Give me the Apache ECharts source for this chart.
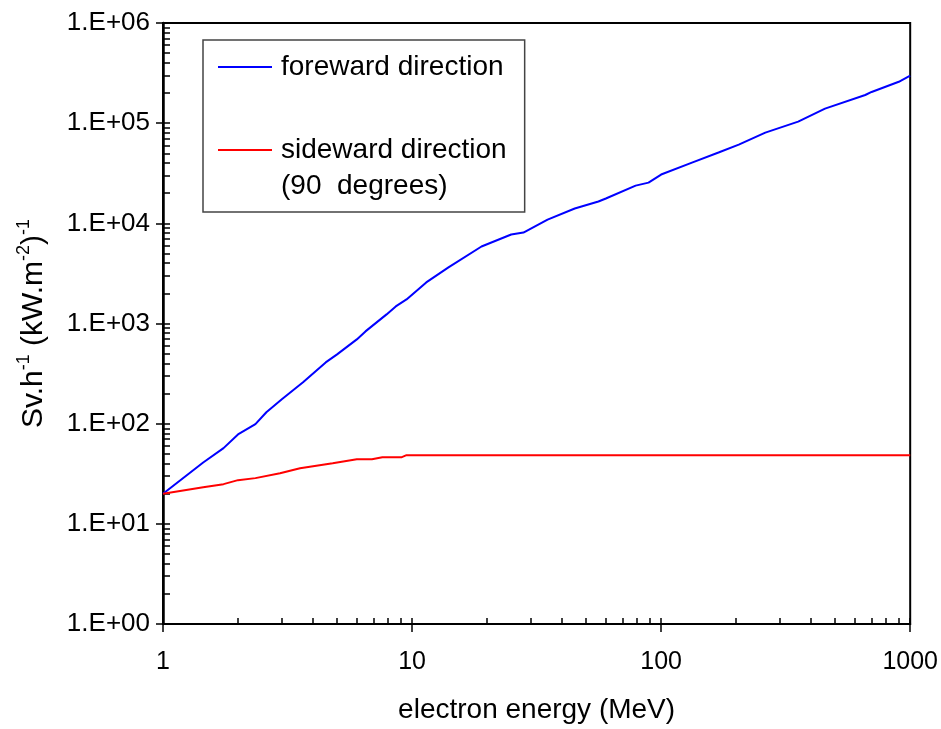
<!DOCTYPE html>
<html>
<head>
<meta charset="utf-8">
<script src="https://cdn.jsdelivr.net/npm/echarts@6/dist/echarts.min.js"></script>
<style>html,body{margin:0;padding:0;background:#fff}#c{width:941px;height:729px}</style>
</head>
<body>
<div id="c"></div>
<script>
// ---- data ----
const fwdEnergy = [1, 1.45, 1.75, 2, 2.35, 2.6, 3, 3.65, 4.5, 5, 6, 6.5, 7.9, 8.6, 9.5, 11.4, 14, 19, 25, 28, 35, 45, 56, 60, 79, 89, 100, 133, 170, 205, 262, 355, 455, 660, 700, 900, 1000];
const fwdDose   = [20, 41, 57, 78, 99, 130, 175, 259, 409, 492, 694, 834, 1233, 1481, 1739, 2570, 3630, 5870, 7730, 8090, 10900, 14060, 16500, 17700, 23800, 25500, 30700, 40400, 50900, 61100, 80400, 103500, 139600, 191000, 205000, 259000, 298000];
const sideEnergy = [1, 1.45, 1.75, 2, 2.35, 2.95, 3.55, 4.8, 6, 6.9, 7.6, 9.1, 9.5, 1000];
const sideDose   = [20, 23.2, 24.9, 27.3, 28.6, 32, 35.9, 40.3, 44.2, 44.2, 46.3, 46.3, 48.5, 48.5];
const xTickLabels = ['1', '10', '100', '1000'];
const yTickLabels = ['1.E+00', '1.E+01', '1.E+02', '1.E+03', '1.E+04', '1.E+05', '1.E+06'];
// inside ticks (minor ticks plus inner half of the major ticks)
const xInsideTicks = [1,2,3,4,5,6,7,8,9,10,20,30,40,50,60,70,80,90,100,200,300,400,500,600,700,800,900,1000];
const yInsideTicks = [1,2,3,4,5,6,7,8,9,10,20,30,40,50,60,70,80,90,100,200,300,400,500,600,700,800,900,
  1000,2000,3000,4000,5000,6000,7000,8000,9000,10000,20000,30000,40000,50000,60000,70000,80000,90000,
  100000,200000,300000,400000,500000,600000,700000,800000,900000,1000000];
const seriesNames = ['foreward direction', 'sideward direction\n(90  degrees)'];

const FONT = "'Liberation Sans', Arial, sans-serif";
const pairs = (xs, ys) => xs.map((x, i) => [x, ys[i]]);
const xLabel = v => xTickLabels[Math.round(Math.log10(v))];
const yLabel = v => yTickLabels[Math.round(Math.log10(v))];
const tickStyle = {color: '#000', width: 1.5};

const chart = echarts.init(document.getElementById('c'), null, {renderer: 'canvas'});
chart.setOption({
  animation: false,
  backgroundColor: '#fff',
  grid: {left: 163, right: 29, top: 23, bottom: 104, show: true, borderColor: '#000', borderWidth: 2, backgroundColor: 'transparent'},
  legend: {
    orient: 'vertical', left: 203, top: 40,
    padding: [9, 18, 8, 15], itemGap: 11, itemWidth: 54, itemHeight: 2, icon: 'rect',
    borderColor: '#444', borderWidth: 1.5, backgroundColor: '#fff',
    textStyle: {fontSize: 28, fontFamily: FONT, color: '#000', lineHeight: 36, padding: [0, 0, 0, 4]},
    formatter: name => name === seriesNames[1] ? '\n' + name : name,
    data: [{name: seriesNames[0]}, {name: seriesNames[1]}]
  },
  xAxis: [{
    type: 'log', logBase: 10, min: 1, max: 1000, position: 'bottom',
    name: 'electron energy (MeV)', nameLocation: 'middle', nameGap: 72,
    nameTextStyle: {fontSize: 28, fontFamily: FONT, color: '#000'},
    axisLine: {show: true, lineStyle: {color: '#000', width: 2}},
    axisTick: {show: true, inside: false, length: 8, lineStyle: tickStyle},
    axisLabel: {fontSize: 25, fontFamily: FONT, color: '#000', margin: 26, formatter: xLabel},
    splitLine: {show: false}, minorTick: {show: false}
  }, {
    type: 'value', min: 0, max: 3, position: 'bottom',
    axisLine: {show: false},
    axisTick: {show: true, inside: true, length: 6, customValues: xInsideTicks.map(Math.log10), lineStyle: tickStyle},
    axisLabel: {show: false}, splitLine: {show: false}
  }],
  yAxis: [{
    type: 'log', logBase: 10, min: 1, max: 1000000, position: 'left',
    name: '{n|Sv.h}{s|-1}{n| (kW.m}{s|-2}{n|)}{s|-1}', nameLocation: 'middle', nameGap: 114,
    nameTextStyle: {
      fontSize: 30, fontFamily: FONT, color: '#000',
      rich: {
        n: {fontSize: 30, fontFamily: FONT, color: '#000', lineHeight: 34, verticalAlign: 'bottom'},
        s: {fontSize: 18, fontFamily: FONT, color: '#000', lineHeight: 18, verticalAlign: 'top'}
      }
    },
    axisLine: {show: true, lineStyle: {color: '#000', width: 2.5}},
    axisTick: {show: true, inside: false, length: 7, lineStyle: tickStyle},
    axisLabel: {fontSize: 26, fontFamily: FONT, color: '#000', margin: 13, formatter: yLabel},
    splitLine: {show: false}, minorTick: {show: false}
  }, {
    type: 'value', min: 0, max: 6, position: 'left',
    axisLine: {show: false},
    axisTick: {show: true, inside: true, length: 7, customValues: yInsideTicks.map(Math.log10), lineStyle: tickStyle},
    axisLabel: {show: false}, splitLine: {show: false}
  }],
  series: [{
    name: seriesNames[0], type: 'line', xAxisIndex: 0, yAxisIndex: 0,
    data: pairs(fwdEnergy, fwdDose), symbol: 'none', smooth: false,
    lineStyle: {color: '#0000ff', width: 2}, itemStyle: {color: '#0000ff'}
  }, {
    name: seriesNames[1], type: 'line', xAxisIndex: 0, yAxisIndex: 0,
    data: pairs(sideEnergy, sideDose), symbol: 'none', smooth: false,
    lineStyle: {color: '#ff0000', width: 2}, itemStyle: {color: '#ff0000'}
  }]
});
</script>
</body>
</html>
